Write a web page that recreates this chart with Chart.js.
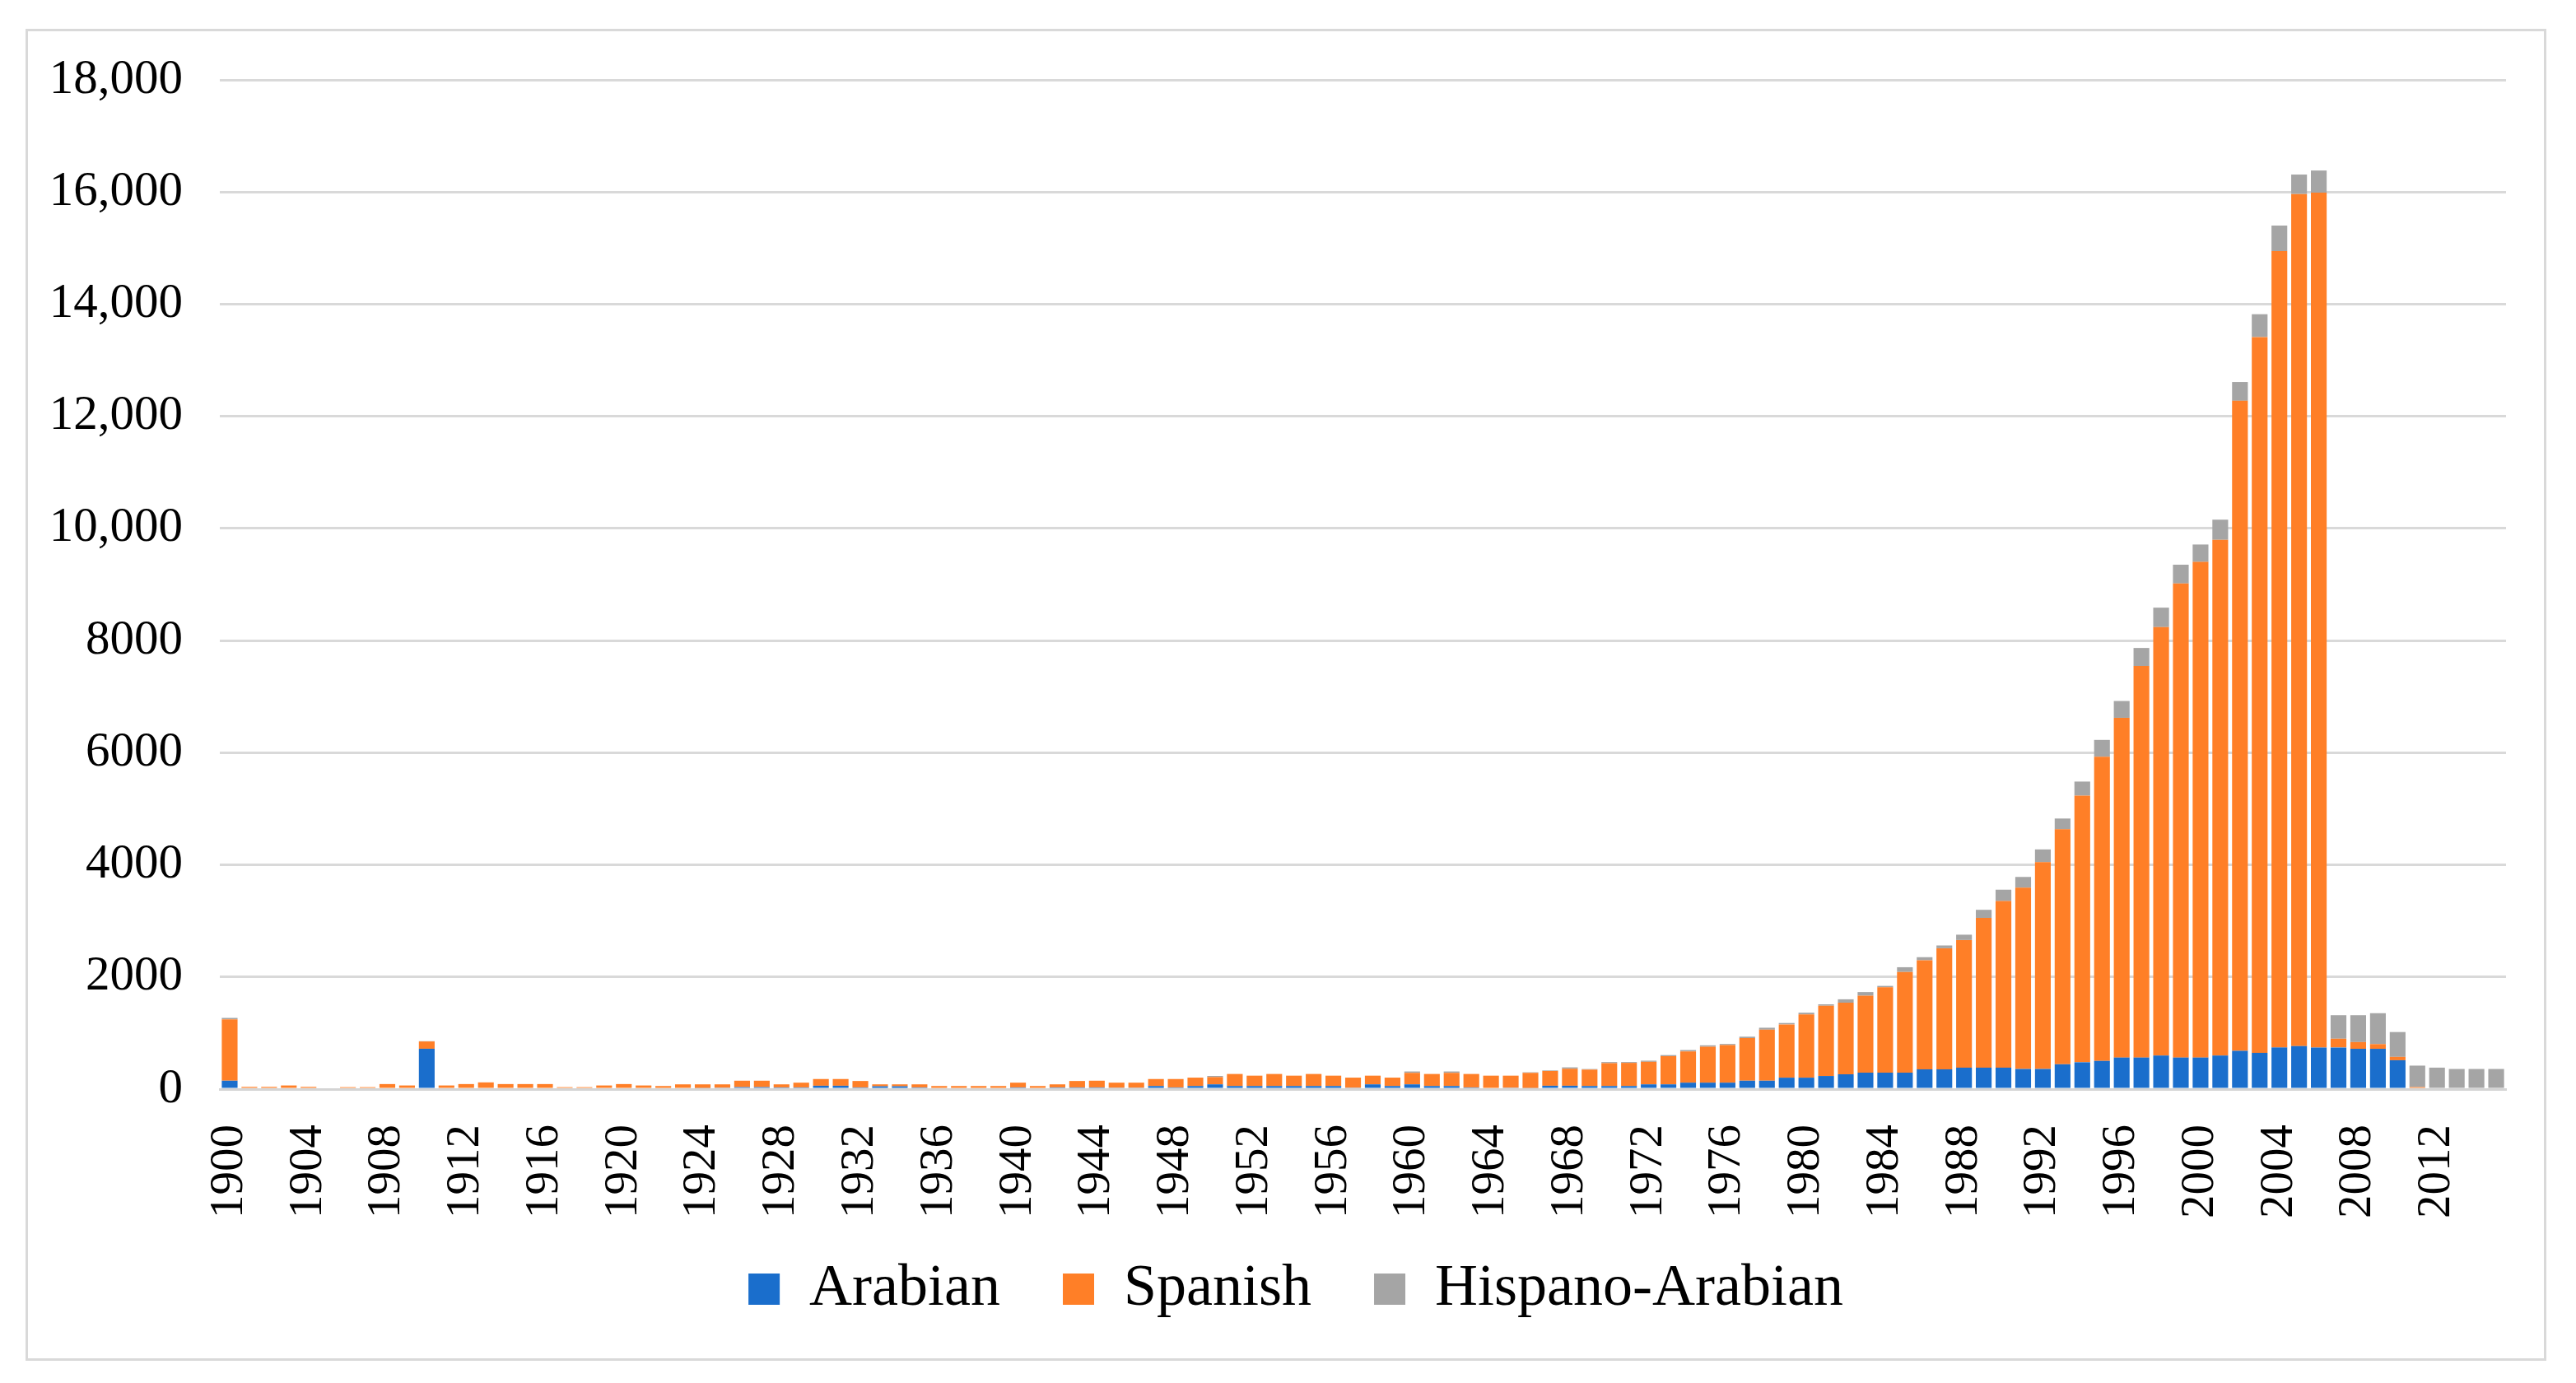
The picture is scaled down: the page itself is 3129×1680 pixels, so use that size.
<!DOCTYPE html>
<html><head><meta charset="utf-8">
<script src="https://cdn.jsdelivr.net/npm/chart.js@4.4.1/dist/chart.umd.min.js"></script>
<style>
html,body{margin:0;padding:0;background:#fff;}
#wrap{position:relative;width:3129px;height:1680px;overflow:hidden;}
#frame{position:absolute;left:31px;top:35px;width:3062px;height:1618px;border:3px solid #d9d9d9;box-sizing:border-box;}
#c{position:absolute;left:0;top:0;}
</style></head>
<body>
<div id="wrap"><div id="frame"></div><canvas id="c" width="3129" height="1680"></canvas></div>
<script>
const years = [];
for (let y = 1900; y <= 2015; y++) years.push(String(y));

const arabian = [
150,0,0,0,0,0,0,0,0,0,
720,0,0,0,0,0,0,0,0,0,
0,0,0,0,20,25,35,35,30,30,
60,60,30,50,50,30,0,0,0,0,
30,0,30,30,30,25,25,55,30,55,
85,55,55,55,55,55,55,25,85,55,
85,55,55,30,0,25,20,60,60,55,
55,55,85,85,115,115,115,150,150,204,
204,234,264,294,294,294,353,353,383,383,
383,359,359,443,479,503,563,563,599,563,
563,599,683,647,743,766,743,743,719,719,
515,0,0,0,0,0
];
const spanish = [
1095,40,40,65,40,0,35,35,90,65,
130,65,90,120,90,90,90,35,35,65,
90,65,55,85,65,60,115,115,55,85,
120,120,115,35,35,55,55,55,55,55,
85,55,55,115,120,90,90,125,150,150,
130,215,185,215,185,215,185,180,155,150,
205,215,235,240,240,215,270,263,303,293,
408,413,402,502,557,641,671,760,910,950,
1129,1253,1278,1372,1522,1795,1945,2159,2276,2671,
2970,3233,3688,4191,4755,5425,6059,6982,7641,8455,
8839,9198,11593,12766,14203,15198,15245,156,120,84,
60,36,0,0,0,0
];
const hispano = [
25,0,0,0,0,0,0,0,0,0,
5,0,0,0,0,0,0,0,0,0,
0,0,0,0,0,0,0,0,0,0,
0,0,0,0,0,0,0,0,0,0,
0,0,0,0,0,0,0,0,0,0,
20,0,0,0,0,0,0,0,0,0,
25,0,25,0,0,0,10,10,25,10,
20,15,20,20,25,25,20,25,35,25,
30,25,60,65,25,85,55,50,95,144,
204,192,228,192,251,300,300,323,347,335,
311,359,335,407,455,347,395,419,479,551,
443,383,383,359,359,359
];
const yTicks = [0,2000,4000,6000,8000,10000,12000,14000,16000,18000];

const FONT = "'Liberation Serif', 'Times New Roman', serif";
const noLabelClip = function(s) { s._computeLabelArea = function() { return undefined; }; };

new Chart(document.getElementById('c'), {
  type: 'bar',
  data: {
    labels: years,
    datasets: [
      {label: 'Arabian', data: arabian, backgroundColor: '#1a6ecc'},
      {label: 'Spanish', data: spanish, backgroundColor: '#ff7f27'},
      {label: 'Hispano-Arabian', data: hispano, backgroundColor: '#a5a5a5'}
    ]
  },
  options: {
    responsive: false,
    devicePixelRatio: 1,
    animation: false,
    datasets: {bar: {categoryPercentage: 0.8, barPercentage: 1.0, borderWidth: 0}},
    layout: {padding: {left: 104, right: 85, top: 97, bottom: 68}},
    plugins: {
      legend: {
        position: 'bottom',
        labels: {
          font: {family: FONT, size: 72},
          color: '#000',
          boxWidth: 38,
          boxHeight: 38,
          padding: 76
        }
      },
      tooltip: {enabled: false}
    },
    scales: {
      x: {
        stacked: true,
        grid: {display: false, drawTicks: false},
        border: {display: true, color: '#d4d4d4', width: 3},
        ticks: {
          autoSkip: false,
          minRotation: 90,
          maxRotation: 90,
          padding: 43,
          color: '#000',
          font: {family: FONT, size: 57},
          callback: function(v) {
            const lab = this.getLabelForValue(v);
            return ((+lab - 1900) % 4 === 0) ? lab : '';
          }
        },
        afterFit: function(s) {
          s.height = 131;
          s.paddingLeft = 0;
          s.paddingRight = 0;
          noLabelClip(s);
        }
      },
      y: {
        stacked: true,
        min: 0,
        max: 18000,
        afterBuildTicks: function(s) { s.ticks = yTicks.map(v => ({value: v})); },
        grid: {color: '#d9d9d9', lineWidth: 3, drawTicks: false},
        border: {display: false},
        ticks: {
          padding: 45,
          color: '#000',
          font: {family: FONT, size: 59},
          callback: function(v) { return v >= 10000 ? v.toLocaleString('en-US') : String(v); }
        },
        afterFit: function(s) { s.width = 163; noLabelClip(s); }
      }
    }
  }
});
</script>
</body></html>
